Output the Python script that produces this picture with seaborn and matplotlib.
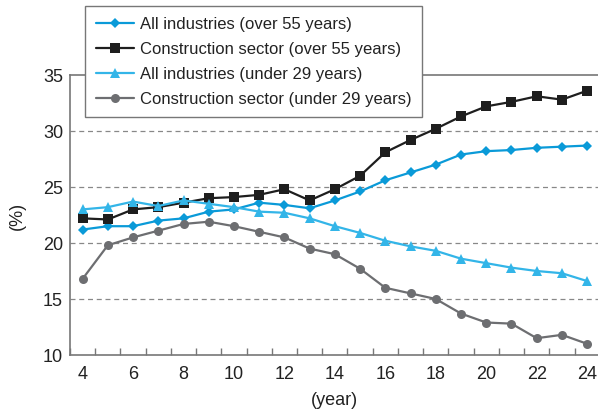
import numpy as np
import pandas as pd
import matplotlib
matplotlib.use("Agg")
import matplotlib.pyplot as plt
import seaborn as sns
from matplotlib.ticker import FixedLocator

years = list(range(4, 25))
all_over55 = [21.2, 21.5, 21.5, 22.0, 22.2, 22.8, 23.0, 23.6, 23.4, 23.1, 23.8, 24.6,
              25.6, 26.3, 27.0, 27.9, 28.2, 28.3, 28.5, 28.6, 28.7]
cons_over55 = [22.2, 22.1, 23.0, 23.2, 23.6, 24.0, 24.1, 24.3, 24.8, 23.8, 24.8, 26.0,
               28.1, 29.2, 30.2, 31.3, 32.2, 32.6, 33.1, 32.8, 33.6]
all_under29 = [23.0, 23.2, 23.7, 23.3, 23.8, 23.5, 23.2, 22.8, 22.7, 22.2, 21.5, 20.9,
               20.2, 19.7, 19.3, 18.6, 18.2, 17.8, 17.5, 17.3, 16.6]
cons_under29 = [16.8, 19.8, 20.5, 21.1, 21.7, 21.9, 21.5, 21.0, 20.5, 19.5, 19.0, 17.7,
                16.0, 15.5, 15.0, 13.7, 12.9, 12.8, 11.5, 11.8, 11.0]

labels = ["All industries (over 55 years)", "Construction sector (over 55 years)",
          "All industries (under 29 years)", "Construction sector (under 29 years)"]
series = [all_over55, cons_over55, all_under29, cons_under29]
colors = ["#0a9ad8", "#1e1e1e", "#33b5e8", "#6d6e71"]
markers = ["D", "s", "^", "o"]
msizes = [5.5, 6.5, 6.5, 6.5]

sns.set_theme(style="white")
plt.rcParams["font.family"] = ["Liberation Sans", "DejaVu Sans"]

fig = plt.figure(figsize=(5.98, 4.14), dpi=100)
ax = fig.add_axes([70 / 598, 1 - 356 / 414, 528 / 598, 280 / 414])

for lab, vals, c, m, ms in zip(labels, series, colors, markers, msizes):
    df = pd.DataFrame({"year": years, "value": vals})
    sns.lineplot(data=df, x="year", y="value", ax=ax, color=c, marker=m,
                 markersize=ms, markeredgewidth=0, linewidth=1.6, label=lab)

ax.set_xlim(3.5, 24.43)
ax.set_ylim(10, 35)
ax.set_yticks([10, 15, 20, 25, 30, 35])
ax.set_xticks([4, 6, 8, 10, 12, 14, 16, 18, 20, 22, 24])
ax.xaxis.set_minor_locator(FixedLocator(np.arange(3.5, 24.0, 1.0)))
ax.tick_params(axis="x", which="major", length=0, pad=7, labelsize=13, colors="#222222")
ax.tick_params(axis="x", which="minor", direction="in", length=5, width=1, color="#777777", bottom=True)
ax.tick_params(axis="y", which="major", length=0, pad=5, labelsize=13, colors="#222222")

for y in [15, 20, 25, 30]:
    ax.axhline(y, color="#888888", linestyle=(0, (4, 3)), linewidth=0.9, zorder=0)

for side in ["left", "bottom", "top"]:
    ax.spines[side].set_color("#777777")
    ax.spines[side].set_linewidth(1.2)
ax.spines["right"].set_visible(False)

ax.set_xlabel("(year)", fontsize=13, color="#222222", labelpad=7)
ax.set_ylabel("(%)", fontsize=13, color="#222222", labelpad=12)

leg = ax.legend(loc="upper left", bbox_to_anchor=(85.5 / 598, 1 - 7 / 414),
                bbox_transform=fig.transFigure, borderaxespad=0, fontsize=12,
                fancybox=False, framealpha=1, edgecolor="#777777",
                handlelength=2.3, handletextpad=0.35, labelspacing=0.6,
                borderpad=0.62)
leg.get_frame().set_linewidth(1.0)
for t in leg.get_texts():
    t.set_color("#222222")
leg.set_zorder(10)

fig.savefig("out.png", dpi=100)
